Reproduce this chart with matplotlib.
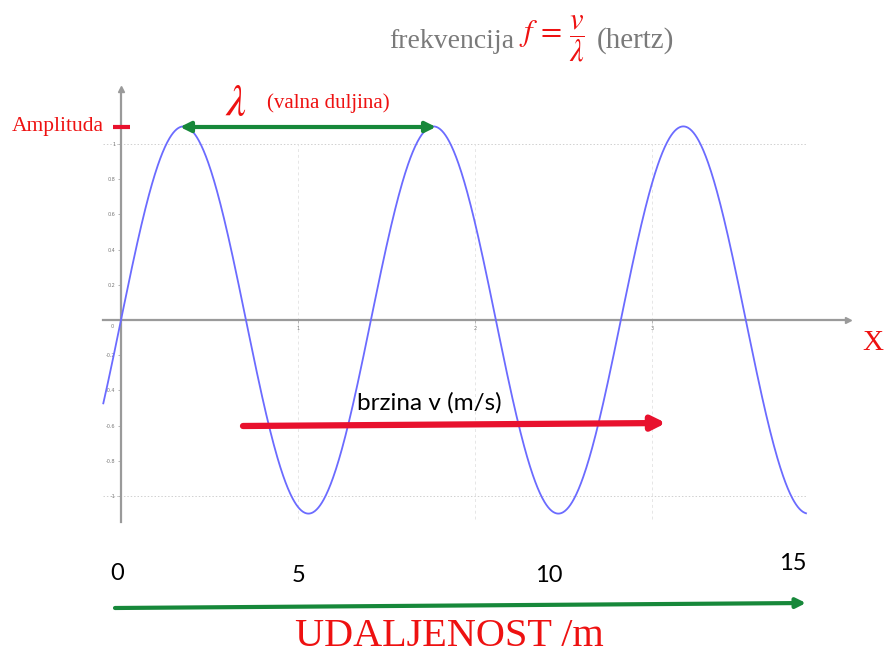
import numpy as np
import matplotlib
matplotlib.use("Agg")
import matplotlib.pyplot as plt

# ---- data ----
amplitude = 1.1
wavelength = 1.412          # in plot units of the inner (GeoGebra) axes
x_range = (-0.10, 3.87)
y_ticks = [-1, -0.8, -0.6, -0.4, -0.2, 0.2, 0.4, 0.6, 0.8, 1]
y_tick_labels = ["-1", "-0.8", "-0.6", "-0.4", "-0.2", "0.2", "0.4", "0.6", "0.8", "1"]
x_ticks = [1, 2, 3]
x_tick_labels = ["1", "2", "3"]
dist_labels = ["0", "5", "10", "15"]

# ---- layout ----
W, H = 885, 657
x0px, y0px, ux, uy = 121, 320, 177, 176

plt.rcParams["mathtext.fontset"] = "stix"

fig = plt.figure(figsize=(W / 100, H / 100), dpi=100)
ax = fig.add_axes([0, 0, 1, 1])
ax.set_xlim(-x0px / ux, (W - x0px) / ux)
ax.set_ylim(-(H - y0px) / uy, y0px / uy)

xs = np.linspace(x_range[0], x_range[1], 1200)
ys = amplitude * np.sin(2 * np.pi * xs / wavelength)
ax.plot(xs, ys, color="#6b6bff", lw=1.3, zorder=3)

# spines as axes through origin
for s in ["top", "right"]:
    ax.spines[s].set_visible(False)
ax.spines["left"].set_position(("data", 0))
ax.spines["bottom"].set_position(("data", 0))
ax.spines["left"].set_bounds(-1.148, 1.30)
ax.spines["bottom"].set_bounds(-0.10, 4.10)
for s in ["left", "bottom"]:
    ax.spines[s].set_color("#9a9a9a")
    ax.spines[s].set_linewidth(1.6)
ax.plot([0], [1.31], marker="^", color="#9a9a9a", ms=4, clip_on=False)
ax.plot([4.11], [0], marker=">", color="#9a9a9a", ms=4, clip_on=False)

ax.set_yticks(y_ticks)
ax.set_yticklabels(y_tick_labels)
ax.set_xticks(x_ticks)
ax.set_xticklabels(x_tick_labels)
ax.tick_params(axis="both", length=2, width=0.6, color="#aaaaaa",
               labelsize=3.5, labelcolor="#777777", pad=2)
ax.text(-0.04, -0.02, "0", fontsize=3.5, color="#777777", ha="right", va="top")

for yv in (1, -1):
    ax.plot([-0.10, 3.87], [yv, yv], color="#d0d0d0", lw=0.7, ls=(0, (1.5, 2)), zorder=1)
for xv in x_ticks:
    ax.plot([xv, xv], [-1.13, 1.0], color="#e6e6e6", lw=0.7, ls=(0, (3, 3)), zorder=1)

# ---- overlay annotations in pixel space ----
ov = fig.add_axes([0, 0, 1, 1], facecolor="none")
ov.set_xlim(0, W)
ov.set_ylim(H, 0)
ov.axis("off")

serif = "Liberation Serif"

ov.text(514, 41, "frekvencija", ha="right", va="center", color="#7a7a7a",
        family=serif, fontsize=20)
ov.text(519, 39, r"$f\,=\,\dfrac{v}{\lambda}$", ha="left", va="center",
        color="#ee1111", fontsize=22)
ov.text(597, 41, "(hertz)", ha="left", va="center", color="#7a7a7a",
        family=serif, fontsize=21)

ov.text(12, 126, "Amplituda", ha="left", va="center", color="#ee1111",
        family=serif, fontsize=15.5)
ov.plot([113, 130], [127, 127], color="#e8112d", lw=3, solid_capstyle="butt")

ov.text(236, 103, r"$\lambda$", ha="center", va="center", color="#ee1111", fontsize=32)
ov.text(267, 103, "(valna duljina)", ha="left", va="center", color="#ee1111",
        family=serif, fontsize=15)

green = "#17883a"
ov.annotate("", xy=(180, 127), xytext=(436, 127),
            arrowprops=dict(arrowstyle="<|-|>", color=green, lw=3,
                            mutation_scale=15, shrinkA=0, shrinkB=0))

ov.text(357, 403, "brzina v (m/s)", ha="left", va="center", color="black",
        family="Lato", fontsize=17.5)
ov.annotate("", xy=(666, 423), xytext=(243, 426),
            arrowprops=dict(arrowstyle="-|>", color="#e8112d", lw=4.5,
                            mutation_scale=20, shrinkA=0, shrinkB=0))

ov.text(873, 343, "X", ha="center", va="center", color="#ee1111",
        family=serif, fontsize=21)

dist_px = [(117, 574), (299, 575), (549, 575), (793, 564)]
for lab, (px, py) in zip(dist_labels, dist_px):
    ov.text(px, py, lab, ha="center", va="center", color="black",
            family="Lato", fontsize=17)

ov.annotate("", xy=(806, 603), xytext=(115, 608),
            arrowprops=dict(arrowstyle="-|>", color=green, lw=3,
                            mutation_scale=14, shrinkA=0, shrinkB=0))

ov.text(449, 637, "UDALJENOST /m", ha="center", va="center", color="#ee1111",
        family=serif, fontsize=29)

fig.savefig("out.png", dpi=100)
